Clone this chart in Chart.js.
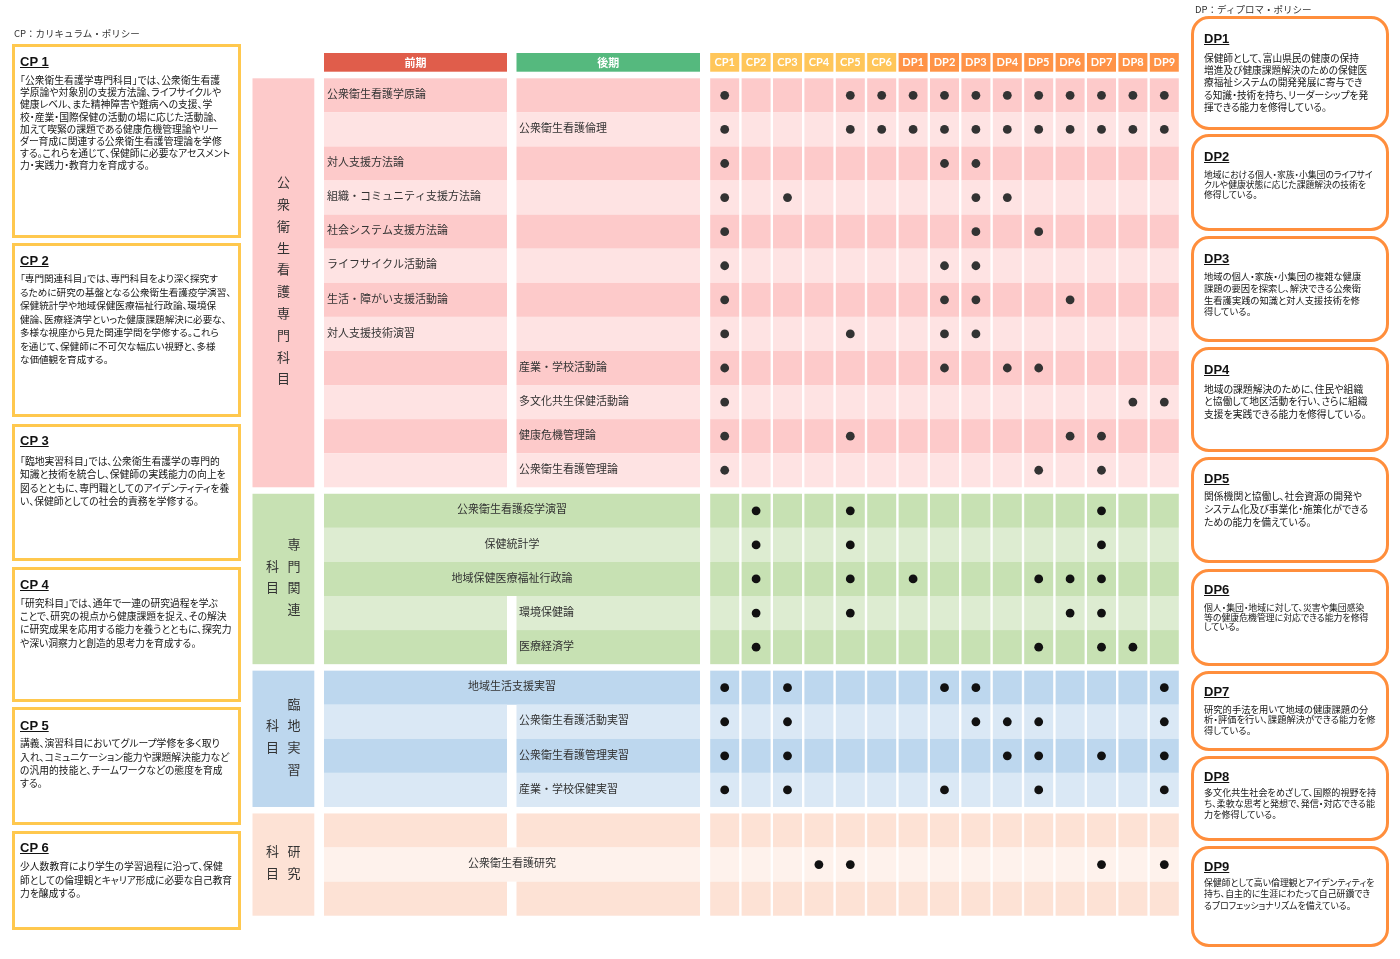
<!DOCTYPE html>
<html><head><meta charset="utf-8">
<script src="https://cdn.jsdelivr.net/npm/chart.js@4.4.0/dist/chart.umd.min.js"></script>
<style>
html,body{margin:0;padding:0;background:#fff;}
body{width:1400px;height:959px;position:relative;overflow:hidden;font-family:"Noto Sans CJK JP",sans-serif;color:#222;}
#c{position:absolute;left:0;top:0;}
.cap{position:absolute;font-size:9.5px;line-height:12px;color:#333;white-space:nowrap;}
.box{position:absolute;box-sizing:border-box;}
.cp{border:3px solid #FFC84E;}
.dp{border:3px solid #FF8E3C;border-radius:18px;}
.ttl{position:absolute;font-family:"Liberation Sans",Arial,sans-serif;font-weight:bold;font-size:13px;line-height:13px;text-decoration:underline;color:#111;white-space:nowrap;}
.txt{position:absolute;white-space:nowrap;color:#151515;font-feature-settings:"palt";}
.txt span{display:inline-block;transform-origin:0 50%;}
</style></head>
<body>
<canvas id="c" width="1400" height="959"></canvas>
<div class="cap" style="left:14px;top:27px;">CP：カリキュラム・ポリシー</div>
<div class="cap" style="left:1195px;top:3px;">DP：ディプロマ・ポリシー</div>
<div id="boxes"></div>
<script>
// ---------- data ----------
const columns = ['CP1','CP2','CP3','CP4','CP5','CP6','DP1','DP2','DP3','DP4','DP5','DP6','DP7','DP8','DP9'];
const termHeaders = ['前期','後期'];

const senmonLabel = ['公衆衛生看護専門科目'];
const senmonSubjects = ['公衆衛生看護学原論','公衆衛生看護倫理','対人支援方法論','組織・コミュニティ支援方法論','社会システム支援方法論','ライフサイクル活動論','生活・障がい支援活動論','対人支援技術演習','産業・学校活動論','多文化共生保健活動論','健康危機管理論','公衆衛生看護管理論'];
const senmonTerms = ['前期','後期','前期','前期','前期','前期','前期','前期','後期','後期','後期','後期'];
const senmonMarks = [
  ['CP1','CP5','CP6','DP1','DP2','DP3','DP4','DP5','DP6','DP7','DP8','DP9'],
  ['CP1','CP5','CP6','DP1','DP2','DP3','DP4','DP5','DP6','DP7','DP8','DP9'],
  ['CP1','DP2','DP3'],
  ['CP1','CP3','DP3','DP4'],
  ['CP1','DP3','DP5'],
  ['CP1','DP2','DP3'],
  ['CP1','DP2','DP3','DP6'],
  ['CP1','CP5','DP2','DP3'],
  ['CP1','DP2','DP4','DP5'],
  ['CP1','DP8','DP9'],
  ['CP1','CP5','DP6','DP7'],
  ['CP1','DP5','DP7']
];

const kanrenLabel = ['専門関連','科目'];
const kanrenSubjects = ['公衆衛生看護疫学演習','保健統計学','地域保健医療福祉行政論','環境保健論','医療経済学'];
const kanrenTerms = ['通年','通年','通年','後期','後期'];
const kanrenMarks = [
  ['CP2','CP5','DP7'],
  ['CP2','CP5','DP7'],
  ['CP2','CP5','DP1','DP5','DP6','DP7'],
  ['CP2','CP5','DP6','DP7'],
  ['CP2','DP5','DP7','DP8']
];

const jisshuLabel = ['臨地実習','科目'];
const jisshuSubjects = ['地域生活支援実習','公衆衛生看護活動実習','公衆衛生看護管理実習','産業・学校保健実習'];
const jisshuTerms = ['通年','後期','後期','後期'];
const jisshuMarks = [
  ['CP1','CP3','DP2','DP3','DP9'],
  ['CP1','CP3','DP3','DP4','DP5','DP9'],
  ['CP1','CP3','DP4','DP5','DP7','DP9'],
  ['CP1','CP3','DP2','DP5','DP9']
];

const kenkyuLabel = ['研究','科目'];
const kenkyuSubjects = ['','公衆衛生看護研究',''];
const kenkyuTerms = ['','通年',''];
const kenkyuMarks = [[],['CP4','CP5','DP7','DP9'],[]];

const cpTitles = ['CP 1','CP 2','CP 3','CP 4','CP 5','CP 6'];
const cpTexts = [
  ['「公衆衛生看護学専門科目」では、公衆衛生看護','学原論や対象別の支援方法論、ライフサイクルや','健康レベル、また精神障害や難病への支援、学','校・産業・国際保健の活動の場に応じた活動論、','加えて喫緊の課題である健康危機管理論やリー','ダー育成に関連する公衆衛生看護管理論を学修','する。これらを通じて、保健師に必要なアセスメント','力・実践力・教育力を育成する。'],
  ['「専門関連科目」では、専門科目をより深く探究す','るために研究の基盤となる公衆衛生看護疫学演習、','保健統計学や地域保健医療福祉行政論、環境保','健論、医療経済学といった健康課題解決に必要な、','多様な視座から見た関連学問を学修する。これら','を通じて、保健師に不可欠な幅広い視野と、多様','な価値観を育成する。'],
  ['「臨地実習科目」では、公衆衛生看護学の専門的','知識と技術を統合し、保健師の実践能力の向上を','図るとともに、専門職としてのアイデンティティを養','い、保健師としての社会的責務を学修する。'],
  ['「研究科目」では、通年で一連の研究過程を学ぶ','ことで、研究の視点から健康課題を捉え、その解決','に研究成果を応用する能力を養うとともに、探究力','や深い洞察力と創造的思考力を育成する。'],
  ['講義、演習科目においてグループ学修を多く取り','入れ、コミュニケーション能力や課題解決能力など','の汎用的技能と、チームワークなどの態度を育成','する。'],
  ['少人数教育により学生の学習過程に沿って、保健','師としての倫理観とキャリア形成に必要な自己教育','力を醸成する。']
];
const dpTitles = ['DP1','DP2','DP3','DP4','DP5','DP6','DP7','DP8','DP9'];
const dpTexts = [
  ['保健師として、富山県民の健康の保持','増進及び健康課題解決のための保健医','療福祉システムの開発発展に寄与でき','る知識・技術を持ち、リーダーシップを発','揮できる能力を修得している。'],
  ['地域における個人・家族・小集団のライフサイ','クルや健康状態に応じた課題解決の技術を','修得している。'],
  ['地域の個人・家族・小集団の複雑な健康','課題の要因を探索し、解決できる公衆衛','生看護実践の知識と対人支援技術を修','得している。'],
  ['地域の課題解決のために、住民や組織','と協働して地区活動を行い、さらに組織','支援を実践できる能力を修得している。'],
  ['関係機関と協働し、社会資源の開発や','システム化及び事業化・施策化ができる','ための能力を備えている。'],
  ['個人・集団・地域に対して、災害や集団感染','等の健康危機管理に対応できる能力を修得','している。'],
  ['研究的手法を用いて地域の健康課題の分','析・評価を行い、課題解決ができる能力を修','得している。'],
  ['多文化共生社会をめざして、国際的視野を持','ち、柔軟な思考と発想で、発信・対応できる能','力を修得している。'],
  ['保健師として高い倫理観とアイデンティティを','持ち、自主的に生涯にわたって自己研鑽でき','るプロフェッショナリズムを備えている。']
];

// ---------- layout (not data) ----------
const cpBoxTop = [43.5,243.3,424.3,566.7,707.3,831];
const cpBoxBottom = [237.7,417.3,560.7,701.7,825,930];
const cpTitleY = [61.7,260,440.7,584,725,847.7];
const cpBodyY = [80,279,461.7,603.3,744,866.7];
const cpLH = [12.2,13.5,13.3,13.3,13.3,13.7];
const cpFS = [9.8,9.6,9.8,9.8,9.8,9.8];
const dpBoxTop = [16,134.3,236,346.7,456.7,568.7,671,756,846];
const dpBoxBottom = [130,230.7,341.5,451.7,563.3,665.7,750.7,840.7,946.7];
const dpTitleY = [38,156.7,258,369.3,478,589,691.7,776.7,866.7];
const dpBodyY = [58.3,175,276.7,389.3,496.7,607.7,709,792.7,882.7];
const dpLH = [12.1,10,11.9,12.3,13,9.8,10.5,10.7,11.2];
const dpFS = [9.7,8.8,9.3,9.8,9.8,8.9,9.3,9.1,8.9];

const boxes = document.getElementById('boxes');
function addBox(cls, l, t, w, h){const d=document.createElement('div');d.className='box '+cls;d.style.left=l+'px';d.style.top=t+'px';d.style.width=w+'px';d.style.height=h+'px';boxes.appendChild(d);}
function addTitle(txt,x,yc){const d=document.createElement('div');d.className='ttl';d.textContent=txt;d.style.left=x+'px';d.style.top=(yc-6.5)+'px';boxes.appendChild(d);}
function addBody(lines,x,yc,lh,fs,maxW){
  const d=document.createElement('div');d.className='txt';d.style.left=x+'px';d.style.top=(yc-lh/2)+'px';d.style.lineHeight=lh+'px';d.style.fontSize=fs+'px';
  const spans=[];
  lines.forEach((ln,i)=>{if(i)d.appendChild(document.createElement('br'));const s=document.createElement('span');s.textContent=ln;d.appendChild(s);spans.push(s);});
  boxes.appendChild(d);
  spans.forEach(s=>{const w=s.getBoundingClientRect().width;if(w>maxW)s.style.transform='scaleX('+(maxW/w)+')';});
}
cpTitles.forEach((t,i)=>{addBox('cp',12,cpBoxTop[i],229.3,cpBoxBottom[i]-cpBoxTop[i]);addTitle(t,20,cpTitleY[i]);addBody(cpTexts[i],20,cpBodyY[i],cpLH[i],cpFS[i],212);});
dpTitles.forEach((t,i)=>{addBox('dp',1191,dpBoxTop[i],198,dpBoxBottom[i]-dpBoxTop[i]);addTitle(t,1204,dpTitleY[i]);addBody(dpTexts[i],1204,dpBodyY[i],dpLH[i],dpFS[i],172);});

// ---------- chart ----------
const ROW_GAP = 0.19;
const sections = [
  {label:senmonLabel, subjects:senmonSubjects, terms:senmonTerms, marks:senmonMarks, dark:'#FDCACA', light:'#FEE3E3', cat:'#FDCACA', dot:'#333333'},
  {label:kanrenLabel, subjects:kanrenSubjects, terms:kanrenTerms, marks:kanrenMarks, dark:'#C7E1B3', light:'#DDECD1', cat:'#C7E1B3', dot:'#111111'},
  {label:jisshuLabel, subjects:jisshuSubjects, terms:jisshuTerms, marks:jisshuMarks, dark:'#BDD7EE', light:'#DAE8F5', cat:'#BDD7EE', dot:'#111111'},
  {label:kenkyuLabel, subjects:kenkyuSubjects, terms:kenkyuTerms, marks:kenkyuMarks, dark:'#FDE2D5', light:'#FEF2EC', cat:'#FDE2D5', dot:'#111111'}
];
let off = 0;
sections.forEach(s=>{s.start = off; off += s.subjects.length + ROW_GAP;});
const totalUnits = off - ROW_GAP;

const CAT_L=252.5, CAT_R=314.3, T1_L=324, T1_R=507, T2_L=516.5, T2_R=700, HEAD_T=53, HEAD_B=71.7;
const JP = '"Noto Sans CJK JP", sans-serif';

const gridPlugin = {
  id:'grid',
  beforeDatasetsDraw(chart){
    const ctx = chart.ctx, xs = chart.scales.x, ys = chart.scales.y;
    ctx.save();
    ctx.textAlign='center'; ctx.textBaseline='middle';
    ctx.fillStyle='#E05D4B'; ctx.fillRect(T1_L,HEAD_T,T1_R-T1_L,HEAD_B-HEAD_T);
    ctx.fillStyle='#55B97E'; ctx.fillRect(T2_L,HEAD_T,T2_R-T2_L,HEAD_B-HEAD_T);
    ctx.fillStyle='#fff'; ctx.font='bold 11px '+JP;
    ctx.fillText(termHeaders[0],(T1_L+T1_R)/2,(HEAD_T+HEAD_B)/2);
    ctx.fillText(termHeaders[1],(T2_L+T2_R)/2,(HEAD_T+HEAD_B)/2);
    columns.forEach((c,i)=>{
      const l = xs.getPixelForValue(i-0.5)+1.2, r = xs.getPixelForValue(i+0.5)-1.2;
      ctx.fillStyle = c.startsWith('CP') ? '#FFC65A' : '#FF9347';
      ctx.fillRect(l,HEAD_T,r-l,HEAD_B-HEAD_T);
      ctx.fillStyle='#fff'; ctx.font='bold 11px Lato, sans-serif';
      ctx.fillText(c,(l+r)/2,(HEAD_T+HEAD_B)/2+0.5);
    });
    sections.forEach(s=>{
      const top = ys.getPixelForValue(s.start), bot = ys.getPixelForValue(s.start+s.subjects.length);
      ctx.fillStyle = s.cat; ctx.fillRect(CAT_L,top,CAT_R-CAT_L,bot-top);
      s.subjects.forEach((name,i)=>{
        const yT = ys.getPixelForValue(s.start+i), yB = ys.getPixelForValue(s.start+i+1);
        const col = i%2===0 ? s.dark : s.light;
        ctx.fillStyle = col;
        if (s.terms[i]==='通年') ctx.fillRect(T1_L,yT,T2_R-T1_L,yB-yT);
        else { ctx.fillRect(T1_L,yT,T1_R-T1_L,yB-yT); ctx.fillRect(T2_L,yT,T2_R-T2_L,yB-yT); }
        columns.forEach((c,j)=>{
          const l = xs.getPixelForValue(j-0.5)+1.2, r = xs.getPixelForValue(j+0.5)-1.2;
          ctx.fillRect(l,yT,r-l,yB-yT);
        });
        if (name){
          const yc = (yT+yB)/2 - 1.5;
          ctx.fillStyle='#333'; ctx.font='11px '+JP; ctx.textBaseline='middle';
          if (s.terms[i]==='通年'){ctx.textAlign='center'; ctx.fillText(name,(T1_L+T2_R)/2,yc);}
          else if (s.terms[i]==='前期'){ctx.textAlign='left'; ctx.fillText(name,T1_L+3,yc);}
          else {ctx.textAlign='left'; ctx.fillText(name,T2_L+2.5,yc);}
        }
      });
      ctx.fillStyle='#333'; ctx.font='13px '+JP; ctx.textAlign='center'; ctx.textBaseline='middle';
      const cy = (top+bot)/2 - 2.5, step = 21.8;
      const colsX = s.label.length===1 ? [283.5] : [294, 272.5];
      s.label.forEach((str,k)=>{
        const chars = Array.from(str);
        const y0 = cy - (chars.length-1)*step/2;
        chars.forEach((ch,m)=>ctx.fillText(ch,colsX[k],y0+m*step));
      });
    });
    ctx.restore();
  }
};

function points(s){
  const pts = [];
  s.marks.forEach((row,i)=>row.forEach(lab=>pts.push({x:columns.indexOf(lab), y:s.start+i+0.5})));
  return pts;
}

new Chart(document.getElementById('c'), {
  type:'scatter',
  data:{datasets: sections.map(s=>({data:points(s), pointRadius:4.4, pointHoverRadius:4.4, backgroundColor:s.dot, borderWidth:0}))},
  options:{
    responsive:false, animation:false, events:[], devicePixelRatio:1,
    layout:{padding:{left:709, right:220, top:78.3, bottom:43.3}},
    plugins:{legend:{display:false}, tooltip:{enabled:false}},
    scales:{
      x:{type:'linear', min:-0.5, max:columns.length-0.5, display:false},
      y:{type:'linear', min:0, max:totalUnits, reverse:true, display:false}
    }
  },
  plugins:[gridPlugin]
});
</script>
</body></html>
